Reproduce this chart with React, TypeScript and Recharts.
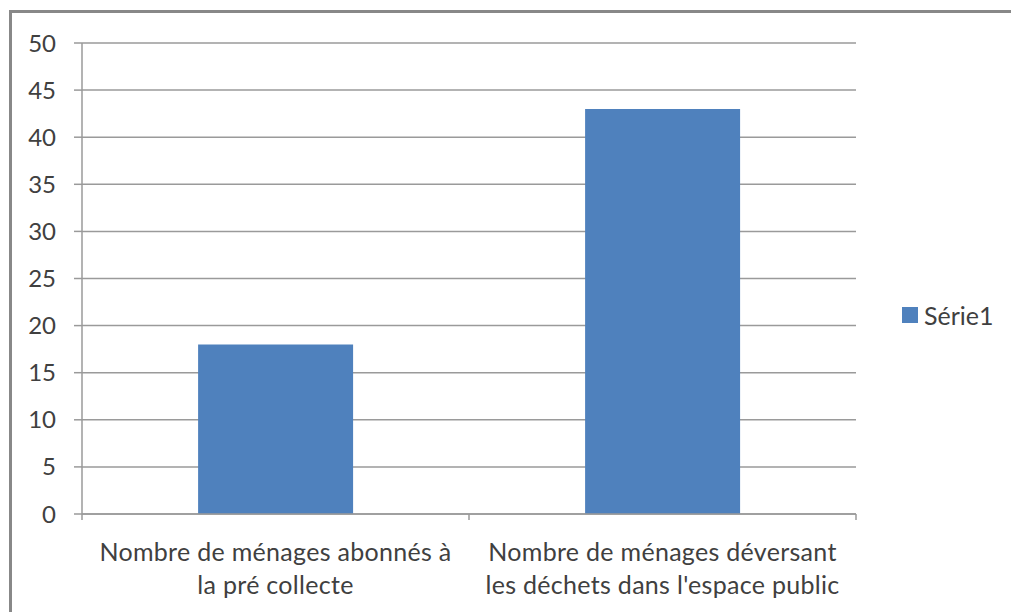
import React from 'react';
import { BarChart, Bar, XAxis, YAxis, CartesianGrid, Legend } from 'recharts';

const categories = [
  'Nombre de ménages abonnés à la pré collecte',
  "Nombre de ménages déversant les déchets dans l'espace public",
];
const labelLines = [
  ['Nombre de ménages abonnés à', 'la pré collecte'],
  ['Nombre de ménages déversant', "les déchets dans l'espace public"],
];
const serie1 = [18, 43];
const seriesName = 'Série1';
const yTicks = [0, 5, 10, 15, 20, 25, 30, 35, 40, 45, 50];

const data = categories.map((c, i) => ({ name: c, value: serie1[i] }));

const FONT = 'Lato';
const TEXT = '#404040';
const GRID = '#9a9a9a';
const BAR = '#4f81bd';

const XTick = (props: any) => {
  const { x, y, payload, index } = props;
  const off = payload.offset || 0;
  const lines = labelLines[index] || [String(payload.value)];
  return (
    <g>
      <line x1={x - off} x2={x - off} y1={y} y2={y + 6} stroke={GRID} strokeWidth={1.5} />
      {index === data.length - 1 && (
        <line x1={x + off} x2={x + off} y1={y} y2={y + 6} stroke={GRID} strokeWidth={1.5} />
      )}
      <text x={x} y={y + 47} textAnchor="middle" fill={TEXT} fontFamily={FONT} fontSize={25} letterSpacing={0.3}>
        {lines.map((l, i) => (
          <tspan key={i} x={x} dy={i === 0 ? 0 : 33}>
            {l}
          </tspan>
        ))}
      </text>
    </g>
  );
};

const LegendContent = (props: any) => {
  const { payload } = props;
  return (
    <div>
      {(payload || []).map((p: any, i: number) => (
        <div key={i} style={{ display: 'flex', alignItems: 'center', fontFamily: FONT, fontSize: 25, color: TEXT, lineHeight: '28px' }}>
          <span style={{ display: 'inline-block', width: 16, height: 16, background: p.color, marginRight: 6 }} />
          <span>{p.value}</span>
        </div>
      ))}
    </div>
  );
};

export default function App() {
  return (
    <div style={{ position: 'absolute', left: 0, top: 0, width: 1011, height: 612, overflow: 'hidden', background: '#fff' }}>
      <div
        style={{
          position: 'absolute',
          left: 9,
          top: 10,
          width: 1010,
          height: 610,
          borderLeft: '3px solid #888',
          borderTop: '3px solid #888',
        }}
      />
      <div style={{ position: 'absolute', left: 0, top: 0 }}>
        <BarChart width={1011} height={612} data={data} margin={{ top: 43, right: 155, bottom: 0, left: 1 }} barCategoryGap="30%">
          <CartesianGrid vertical={false} stroke={GRID} strokeWidth={1.5} />
          <XAxis
            dataKey="name"
            height={98}
            axisLine={{ stroke: GRID, strokeWidth: 1.5 }}
            tickLine={false}
            tickSize={0}
            tickMargin={0}
            tick={<XTick />}
            interval={0}
          />
          <YAxis
            width={81}
            domain={[0, 50]}
            ticks={yTicks}
            interval={0}
            axisLine={{ stroke: GRID, strokeWidth: 1.5 }}
            tickLine={{ stroke: GRID, strokeWidth: 1.5 }}
            tickSize={8}
            tickMargin={18}
            tick={{ fill: TEXT, fontFamily: FONT, fontSize: 24 }}
          />
          <Legend
            layout="horizontal"
            verticalAlign="middle"
            align="center"
            content={<LegendContent />}
            wrapperStyle={{ left: 902, top: 301, width: 'auto', height: 'auto' }}
          />
          <Bar dataKey="value" name={seriesName} fill={BAR} isAnimationActive={false} />
        </BarChart>
      </div>
    </div>
  );
}
